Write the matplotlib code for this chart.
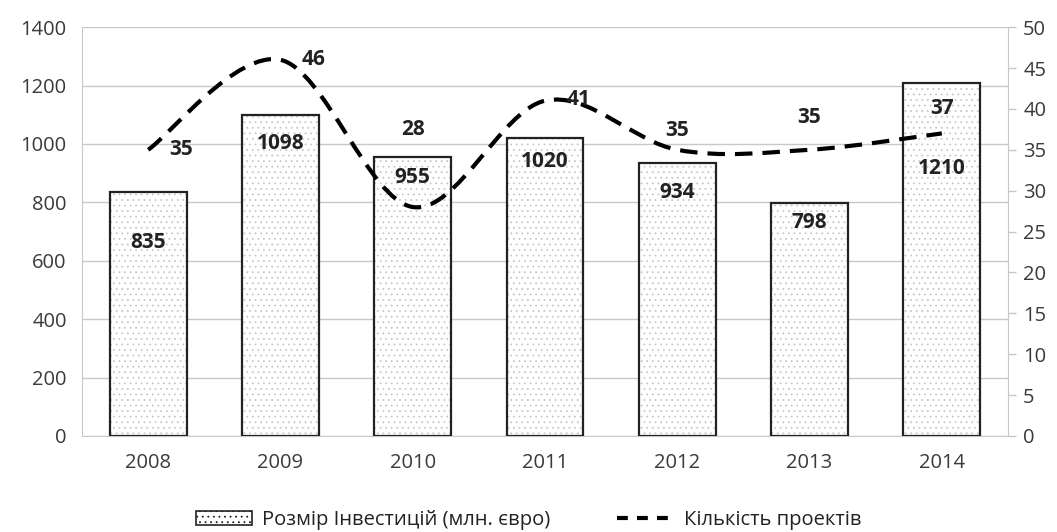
import matplotlib
import numpy as np

matplotlib.use("Agg")
import matplotlib.pyplot as plt  # noqa: E402
from matplotlib.path import Path  # noqa: E402
from matplotlib.patches import PathPatch, Patch  # noqa: E402
from matplotlib.lines import Line2D  # noqa: E402

years = ["2008", "2009", "2010", "2011", "2012", "2013", "2014"]
investment = [835, 1098, 955, 1020, 934, 798, 1210]
projects = [35, 46, 28, 41, 35, 35, 37]

# label offsets in points (dx, dy) relative to the data point
bar_lab_off = [(0, -36), (0, -20), (0, -15), (0, -17), (0, -21), (0, -14), (0, -62)]
line_lab_off = [(24, 0), (24, 0), (0, 56), (24, 1), (0, 14), (0, 23), (0, 18)]

plt.rcParams["font.family"] = ["Open Sans", "DejaVu Sans"]
plt.rcParams["hatch.color"] = "#8c8c8c"
plt.rcParams["hatch.linewidth"] = 0.6

fig = plt.figure(figsize=(10.57, 5.32), dpi=100)
ax = fig.add_axes([0.0776, 0.1805, 0.876, 0.7685])
x = np.arange(len(years))

grid_c = "#c8c8c8"
tick_c = "#3a3a3a"
ax.set_ylim(0, 1400)
ax.set_yticks(range(0, 1401, 200))
ax.set_xlim(-0.5, len(years) - 0.5)
ax.grid(axis="y", color=grid_c, lw=1)
ax.set_axisbelow(True)

# dotted fill first, then the black outline on top
ax.bar(x, investment, width=0.58, color="white", edgecolor=grid_c, linewidth=0, hatch="...", zorder=2)
ax.bar(x, investment, width=0.58, fill=False, edgecolor="#222222", linewidth=1.6, zorder=3)

for xi, v, (dx, dy) in zip(x, investment, bar_lab_off):
    ax.annotate(str(v), (xi, v), xytext=(dx, dy), textcoords="offset points",
                ha="center", va="center", fontsize=15, fontweight="bold", color="#222222", zorder=5)

ax.set_xticks(x)
ax.set_xticklabels(years)
ax.tick_params(axis="x", length=0, pad=12, labelsize=14.5, colors=tick_c)
ax.tick_params(axis="y", length=0, pad=11, labelsize=14.5, colors=tick_c)
for s in ["top", "right"]:
    ax.spines[s].set_visible(False)
ax.spines["left"].set_color(grid_c)
ax.spines["bottom"].set_color(grid_c)

ax2 = ax.twinx()
ax2.set_ylim(0, 50)
ax2.set_yticks(range(0, 51, 5))
ax2.tick_params(axis="y", length=6, width=1, pad=5, labelsize=14.5, labelcolor=tick_c, color=grid_c)
for s in ["top", "left", "bottom"]:
    ax2.spines[s].set_visible(False)
ax2.spines["right"].set_color(grid_c)

# smoothed project-count line: cubic Bezier segments (Catmull-Rom control points)
pts = np.column_stack([x, projects]).astype(float)
verts = [tuple(pts[0])]
codes = [Path.MOVETO]
for i in range(len(pts) - 1):
    p0 = pts[i - 1] if i > 0 else pts[i]
    p1, p2 = pts[i], pts[i + 1]
    p3 = pts[i + 2] if i + 2 < len(pts) else pts[i + 1]
    c1 = p1 + (p2 - p0) / 6
    c2 = p2 - (p3 - p1) / 6
    verts += [tuple(c1), tuple(c2), tuple(p2)]
    codes += [Path.CURVE4] * 3
ax2.add_patch(PathPatch(Path(verts, codes), fill=False, edgecolor="black", lw=3,
                        linestyle=(0, (4.2, 2.4)), capstyle="butt", zorder=4))

for xi, v, (dx, dy) in zip(x, projects, line_lab_off):
    ax2.annotate(str(v), (xi, v), xytext=(dx, dy), textcoords="offset points",
                 ha="center", va="center", fontsize=15, fontweight="bold", color="#222222", zorder=5)

handles = [Patch(facecolor="white", edgecolor="#222222", hatch="...", linewidth=1.2),
           Line2D([0], [0], color="black", lw=3, linestyle=(0, (2.6, 2.2)))]
fig.legend(handles, ["Розмір Інвестицій (млн. євро)", "Кількість проектів"],
           loc="lower center", bbox_to_anchor=(0.5, -0.03), ncol=2, frameon=False,
           fontsize=14.5, handlelength=2.8, handletextpad=0.5, columnspacing=3.3,
           labelcolor="#222222")

fig.savefig("out.png", dpi=100)
